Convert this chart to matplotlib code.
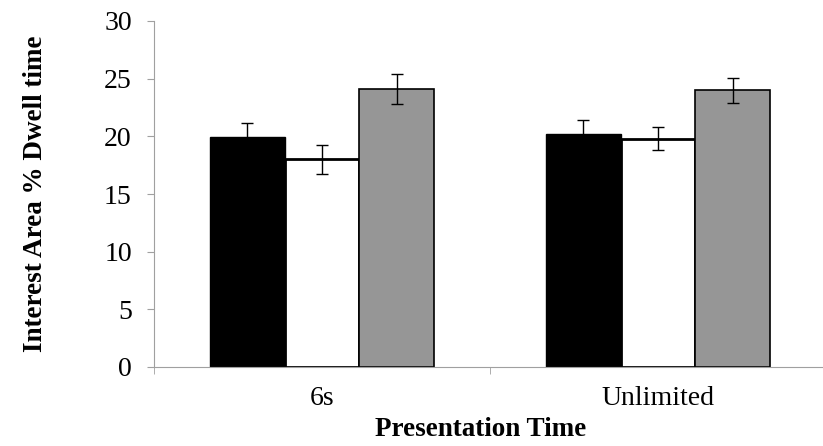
import numpy as np
import matplotlib.pyplot as plt

plt.rcParams['font.family'] = ['Liberation Serif', 'DejaVu Serif']

categories = ['6s', 'Unlimited']
black_vals = [19.9, 20.2]
white_vals = [18.0, 19.8]
gray_vals = [24.1, 24.0]
black_err = [1.25, 1.2]
white_err = [1.25, 1.0]
gray_err = [1.3, 1.1]

fig = plt.figure(figsize=(8.23, 4.46), dpi=100)
ax = fig.add_axes([154 / 823, 1 - 367 / 446, 672 / 823, 346 / 446])

x = np.arange(len(categories))
w = 0.223
ekw = dict(ecolor='black', elinewidth=1, capsize=4.3, capthick=1)
ax.bar(x - w, black_vals, w, color='black', edgecolor='black', linewidth=1,
       yerr=black_err, error_kw=ekw)
ax.bar(x, white_vals, w, color='white', edgecolor='black', linewidth=2,
       yerr=white_err, error_kw=ekw)
ax.bar(x + w, gray_vals, w, color='#969696', edgecolor='black', linewidth=1.2,
       yerr=gray_err, error_kw=ekw)

ax.set_ylim(0, 30)
ax.set_xlim(-0.5, 1.5)
ax.set_yticks(np.arange(0, 31, 5))
ax.set_xticks(x)
ax.set_xticklabels(categories)
ax.set_xticks([-0.5, 0.5, 1.5], minor=True)
ax.tick_params(axis='x', which='major', length=0, pad=14, labelsize=20)
ax.tick_params(axis='x', which='minor', length=5, color='#a0a0a0', direction='out')
ax.tick_params(axis='y', length=5, color='#a0a0a0', direction='out', pad=11, labelsize=20)

for s in ['top', 'right']:
    ax.spines[s].set_visible(False)
ax.spines['left'].set_color('#a0a0a0')
ax.spines['bottom'].set_color('#a0a0a0')

ax.set_xlabel('Presentation Time', fontsize=19.5, fontweight='bold')
ax.set_ylabel('Interest Area % Dwell time', fontsize=19.5, fontweight='bold')
ax.xaxis.set_label_coords(0.4866, -0.1445)
ax.yaxis.set_label_coords(-0.158, 0.5)

plt.savefig('out.png', dpi=100)
